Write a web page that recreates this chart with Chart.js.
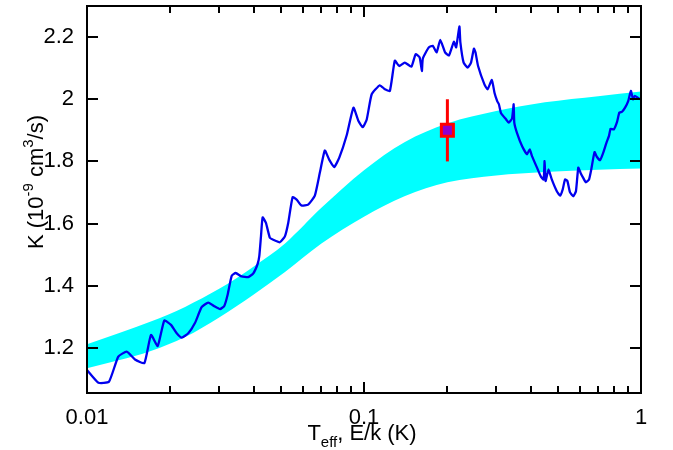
<!DOCTYPE html>
<html lang="en">
<head>
<meta charset="utf-8">
<title>K vs Teff</title>
<script src="https://cdn.jsdelivr.net/npm/chart.js"></script>
<style>
  html, body { margin: 0; padding: 0; background: #fff; }
</style>
</head>
<body>
<canvas id="chart" width="673" height="450"></canvas>
<script>
  // cyan band (upper and lower edge)
  const bandX = [0.01, 0.013, 0.017, 0.0226, 0.03, 0.04, 0.052, 0.07, 0.1, 0.14, 0.2, 0.3, 0.45, 0.7, 1.0];
  const bandUpper = [1.212, 1.247, 1.285, 1.332, 1.39, 1.462, 1.537, 1.65, 1.772, 1.862, 1.922, 1.962, 1.99, 2.01, 2.025];
  const bandLower = [1.135, 1.16, 1.19, 1.235, 1.298, 1.372, 1.445, 1.535, 1.622, 1.688, 1.733, 1.755, 1.766, 1.773, 1.777];

  // blue curve
  const kX = [0.01, 0.011, 0.012, 0.01297, 0.01391, 0.0149, 0.01611, 0.01702, 0.018, 0.01901,
    0.0201, 0.02108, 0.02198, 0.02321, 0.02453, 0.02593, 0.0274, 0.02896, 0.03021, 0.0313,
    0.03219, 0.03329, 0.03441, 0.03616, 0.0382, 0.03979, 0.0413, 0.04188, 0.04247, 0.04306,
    0.04426, 0.04574, 0.04701, 0.04969, 0.05181, 0.05326, 0.05525, 0.05712, 0.05951, 0.06286,
    0.06646, 0.06929, 0.07221, 0.07486, 0.07806, 0.08143, 0.0866, 0.0916, 0.0955, 0.099,
    0.1023, 0.1066, 0.1141, 0.119, 0.124, 0.1292, 0.1339, 0.1403, 0.1483, 0.1536,
    0.1588, 0.1618, 0.1631, 0.1714, 0.1771, 0.183, 0.1885, 0.1962, 0.2027, 0.2111,
    0.2151, 0.221, 0.2228, 0.2289, 0.2369, 0.2434, 0.2493, 0.2526, 0.2581, 0.2721,
    0.2793, 0.2895, 0.296, 0.3026, 0.3069, 0.3125, 0.3241, 0.3331, 0.3423, 0.347,
    0.3488, 0.3566, 0.3723, 0.3878, 0.3965, 0.4041, 0.4212, 0.4352, 0.4451, 0.4487,
    0.4524, 0.4636, 0.4763, 0.4967, 0.5105, 0.5217, 0.5317, 0.5423, 0.554, 0.5697,
    0.5823, 0.5938, 0.6052, 0.6186, 0.632, 0.6493, 0.6614, 0.6795, 0.6925, 0.7113,
    0.7305, 0.7502, 0.7664, 0.7768, 0.7979, 0.8195, 0.8351, 0.8525, 0.8759, 0.8997,
    0.9192, 0.9362, 0.9492, 0.99];
  const kY = [1.129, 1.088, 1.091, 1.172, 1.188, 1.163, 1.151, 1.242, 1.206, 1.288,
    1.274, 1.247, 1.233, 1.247, 1.28, 1.331, 1.346, 1.333, 1.325, 1.335,
    1.371, 1.432, 1.441, 1.43, 1.428, 1.439, 1.47, 1.495, 1.559, 1.62,
    1.602, 1.554, 1.548, 1.54, 1.559, 1.602, 1.685, 1.677, 1.658, 1.661,
    1.69, 1.764, 1.835, 1.806, 1.782, 1.812, 1.884, 1.973, 1.93, 1.91,
    1.935, 2.016, 2.045, 2.032, 2.027, 2.124, 2.107, 2.118, 2.105, 2.145,
    2.135, 2.091, 2.131, 2.167, 2.172, 2.151, 2.191, 2.151, 2.141, 2.185,
    2.167, 2.234, 2.183, 2.118, 2.102, 2.118, 2.163, 2.151, 2.107, 2.048,
    2.032, 2.062, 2.02, 1.994, 1.984, 1.955, 1.938, 1.925, 1.938, 1.984,
    1.925, 1.892, 1.849, 1.823, 1.839, 1.817, 1.78, 1.751, 1.742, 1.801,
    1.737, 1.774, 1.742, 1.704, 1.69, 1.71, 1.742, 1.737, 1.701, 1.688,
    1.704, 1.78, 1.763, 1.747, 1.733, 1.742, 1.774, 1.83, 1.815, 1.804,
    1.828, 1.86, 1.882, 1.905, 1.903, 1.927, 1.957, 1.959, 1.973, 1.995,
    2.027, 2.0, 2.011, 2.0];

  // measured point with error bar
  const ptX = [0.2];
  const ptY = [1.9];
  const ptErr = [0.1];

  // axes
  const xTicks = [0.01, 0.02, 0.03, 0.04, 0.05, 0.06, 0.07, 0.08, 0.09,
    0.1, 0.2, 0.3, 0.4, 0.5, 0.6, 0.7, 0.8, 0.9, 1];
  const xMajor = [0.01, 0.1, 1];
  const xLabels = ['0.01', '0.1', '1'];
  const yTicks = [1.2, 1.4, 1.6, 1.8, 2.0, 2.2];
  const yLabels = ['1.2', '1.4', '1.6', '1.8', '2', '2.2'];

  const FONT = '"Liberation Sans", Arial, sans-serif';
  const toXY = (xs, ys) => xs.map((x, i) => ({ x: x, y: ys[i] }));

  const errBar = [];
  ptX.forEach((x, i) => {
    errBar.push({ x: x, y: ptY[i] - ptErr[i] });
    errBar.push({ x: x, y: ptY[i] + ptErr[i] });
  });

  // draw runs of text with sub/superscripts
  function drawRich(ctx, runs, size, cx, baseY) {
    const parts = runs.map(r => {
      const s = r.k ? size * 0.68 : size;
      ctx.font = s + 'px ' + FONT;
      return { t: r.t, k: r.k, s: s, w: ctx.measureText(r.t).width };
    });
    const total = parts.reduce((a, p) => a + p.w, 0);
    let x = cx - total / 2;
    ctx.textAlign = 'left';
    ctx.textBaseline = 'alphabetic';
    ctx.fillStyle = '#000';
    parts.forEach(p => {
      ctx.font = p.s + 'px ' + FONT;
      let dy = 0;
      if (p.k === 'sup') dy = -size * 0.45;
      if (p.k === 'sub') dy = size * 0.3;
      ctx.fillText(p.t, x, baseY + dy);
      x += p.w;
    });
  }

  const framePlugin = {
    id: 'frame',
    afterDraw(chart) {
      const ctx = chart.ctx;
      const a = chart.chartArea;
      const xs = chart.scales.x, ys = chart.scales.y;
      ctx.save();
      ctx.strokeStyle = '#000';
      ctx.lineWidth = 2;
      ctx.strokeRect(a.left, a.top, a.right - a.left, a.bottom - a.top);
      ctx.beginPath();
      xTicks.forEach(v => {
        const px = Math.round(xs.getPixelForValue(v));
        const len = xMajor.includes(v) ? 11 : 7;
        ctx.moveTo(px, a.bottom); ctx.lineTo(px, a.bottom - len);
        ctx.moveTo(px, a.top); ctx.lineTo(px, a.top + len);
      });
      yTicks.forEach(v => {
        const py = Math.round(ys.getPixelForValue(v));
        ctx.moveTo(a.left, py); ctx.lineTo(a.left + 11, py);
        ctx.moveTo(a.right, py); ctx.lineTo(a.right - 11, py);
      });
      ctx.stroke();

      // axis titles
      drawRich(ctx, [{ t: 'T' }, { t: 'eff', k: 'sub' }, { t: ', E/k (K)' }], 22, (a.left + a.right) / 2 - 2, 440);
      ctx.translate(43, 182);
      ctx.rotate(-Math.PI / 2);
      drawRich(ctx, [{ t: 'K (10' }, { t: '-9', k: 'sup' }, { t: ' cm' }, { t: '3', k: 'sup' }, { t: '/s)' }], 22, 0, 0);
      ctx.restore();
    }
  };

  new Chart(document.getElementById('chart'), {
    type: 'line',
    data: {
      datasets: [
        {
          data: toXY(ptX, ptY),
          showLine: false,
          pointStyle: 'rect',
          pointRadius: 8.5,
          pointBorderWidth: 3,
          pointBackgroundColor: '#8c00d0',
          pointBorderColor: '#ff0000'
        },
        {
          data: errBar,
          borderColor: '#ff0000',
          borderWidth: 3,
          pointRadius: 0
        },
        {
          data: toXY(kX, kY),
          borderColor: '#0000ee',
          borderWidth: 2.3,
          pointRadius: 0,
          tension: 0.15
        },
        {
          data: toXY(bandX, bandUpper),
          borderWidth: 0,
          borderColor: 'rgba(0,0,0,0)',
          backgroundColor: '#00ffff',
          pointRadius: 0,
          cubicInterpolationMode: 'monotone',
          fill: '+1'
        },
        {
          data: toXY(bandX, bandLower),
          borderWidth: 0,
          borderColor: 'rgba(0,0,0,0)',
          backgroundColor: '#00ffff',
          pointRadius: 0,
          cubicInterpolationMode: 'monotone',
          fill: false
        }
      ]
    },
    options: {
      responsive: false,
      animation: false,
      devicePixelRatio: 1,
      layout: { autoPadding: false, padding: { top: 6, right: 32, left: 0, bottom: 0 } },
      plugins: {
        legend: { display: false },
        tooltip: { enabled: false }
      },
      scales: {
        x: {
          type: 'logarithmic',
          min: 0.01,
          max: 1,
          grid: { display: false },
          border: { display: false },
          afterBuildTicks: s => { s.ticks = xTicks.map(v => ({ value: v })); },
          afterFit: s => { s.height = 57; s.paddingLeft = 0; s.paddingRight = 0; },
          ticks: {
            autoSkip: false,
            maxRotation: 0,
            padding: 4,
            color: '#000',
            font: { family: FONT, size: 22 },
            callback: v => {
              const i = xMajor.indexOf(v);
              return i >= 0 ? xLabels[i] : '';
            }
          }
        },
        y: {
          type: 'linear',
          min: 1.055,
          max: 2.3,
          grid: { display: false },
          border: { display: false },
          afterBuildTicks: s => { s.ticks = yTicks.map(v => ({ value: v })); },
          afterFit: s => { s.width = 87; s.paddingTop = 0; s.paddingBottom = 0; },
          ticks: {
            padding: 5,
            color: '#000',
            font: { family: FONT, size: 22 },
            callback: v => yLabels[yTicks.indexOf(v)]
          }
        }
      }
    },
    plugins: [framePlugin]
  });
</script>
</body>
</html>
